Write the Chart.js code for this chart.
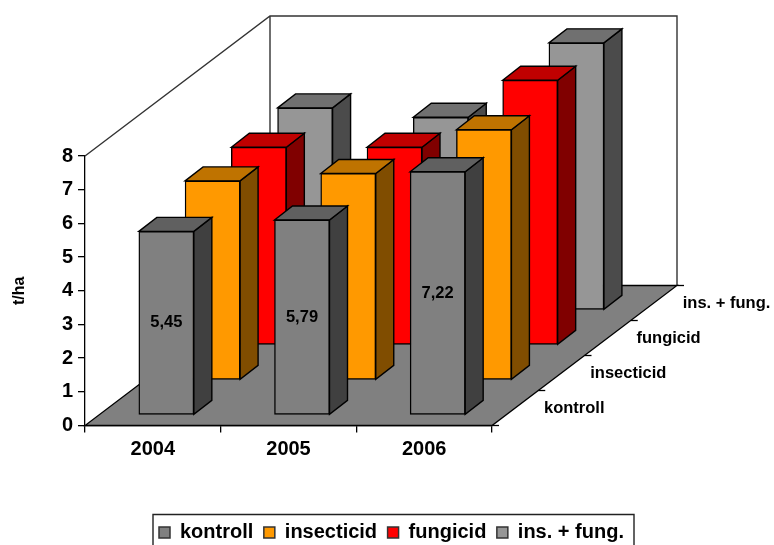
<!DOCTYPE html>
<html>
<head>
<meta charset="utf-8">
<style>html,body{margin:0;padding:0;background:#fff;overflow:hidden}canvas{display:block}</style>
<script src="https://cdn.jsdelivr.net/npm/chart.js@4/dist/chart.umd.min.js"></script>
</head>
<body>
<canvas id="c" width="774" height="545"></canvas>
<script>
const years = ['2004', '2005', '2006'];
const seriesNames = ['kontroll', 'insecticid', 'fungicid', 'ins. + fung.'];
const kontroll = [5.45, 5.79, 7.22];
const insecticid = [5.91, 6.13, 7.43];
const fungicid = [5.87, 5.87, 7.86];
const insFung = [6.0, 5.72, 7.93];
const yTicks = [0, 1, 2, 3, 4, 5, 6, 7, 8];
const valueLabels = ['5,45', '5,79', '7,22'];

const FONT = '"Liberation Sans", Arial, sans-serif';
const front = ['#808080', '#FF9900', '#FF0000', '#969696'];
const topFace = ['#606060', '#BF7300', '#C00000', '#707070'];
const sideFace = ['#404040', '#804D00', '#800000', '#4B4B4B'];
const DEPTH = { x: 185, y: 140 };
const SLOT = { x: DEPTH.x / 4, y: DEPTH.y / 4 };
const GAP = { x: 13.5, y: 10.5 };
const BAR_D = { x: 18, y: 14 };

function offset(i) {
  return { x: GAP.x + SLOT.x * i, y: GAP.y + SLOT.y * i };
}
function poly(ctx, pts, fill, stroke, lw) {
  ctx.beginPath();
  pts.forEach((p, i) => i ? ctx.lineTo(p[0], p[1]) : ctx.moveTo(p[0], p[1]));
  ctx.closePath();
  if (fill) { ctx.fillStyle = fill; ctx.fill(); }
  if (stroke) { ctx.strokeStyle = stroke; ctx.lineWidth = lw || 1; ctx.stroke(); }
}

const scene = {
  id: 'scene',
  afterLayout(chart) {
    const lg = chart.legend;
    lg.left = 148.5; lg.right = 648.5; lg.width = 500; lg.top = 512;
  },
  beforeDatasetsDraw(chart) {
    const ctx = chart.ctx, a = chart.chartArea;
    const L = a.left, R = a.right, B = a.bottom, T = a.top;
    ctx.save();
    // walls
    ctx.lineJoin = 'miter';
    ctx.beginPath();
    ctx.moveTo(L, T); ctx.lineTo(L + DEPTH.x, T - DEPTH.y);
    ctx.lineTo(R + DEPTH.x, T - DEPTH.y); ctx.lineTo(R + DEPTH.x, B - DEPTH.y);
    ctx.moveTo(L + DEPTH.x, T - DEPTH.y); ctx.lineTo(L + DEPTH.x, B - DEPTH.y);
    ctx.strokeStyle = '#333'; ctx.lineWidth = 1.4; ctx.stroke();
    // floor
    poly(ctx, [[L, B], [R, B], [R + DEPTH.x, B - DEPTH.y], [L + DEPTH.x, B - DEPTH.y]], '#808080', '#000', 1.3);
    // depth axis ticks and labels
    ctx.strokeStyle = '#000'; ctx.lineWidth = 1.3;
    for (let i = 0; i <= seriesNames.length; i++) {
      const x = R + SLOT.x * i, y = B - SLOT.y * i;
      ctx.beginPath(); ctx.moveTo(x, y); ctx.lineTo(x + 7, y); ctx.stroke();
    }
    ctx.fillStyle = '#000';
    ctx.font = 'bold 16.5px ' + FONT;
    ctx.textAlign = 'left'; ctx.textBaseline = 'middle';
    seriesNames.forEach((n, i) => {
      ctx.fillText(n, R + SLOT.x * i + 52, B - SLOT.y * i - 17);
    });
    // frame of the legend
    ctx.strokeStyle = '#222'; ctx.lineWidth = 1.4;
    ctx.beginPath();
    ctx.moveTo(153, 550); ctx.lineTo(153, 514.5); ctx.lineTo(634, 514.5); ctx.lineTo(634, 550);
    ctx.stroke();
    ctx.restore();
  },
  beforeDatasetDraw(chart, args) {
    const ctx = chart.ctx, i = args.index, o = offset(i);
    const meta = chart.getDatasetMeta(i);
    ctx.save();
    ctx.translate(o.x, -o.y);
    meta.data.forEach(bar => {
      const l = bar.x - bar.width / 2, r = bar.x + bar.width / 2, t = bar.y, b = bar.base;
      poly(ctx, [[r, t], [r + BAR_D.x, t - BAR_D.y], [r + BAR_D.x, b - BAR_D.y], [r, b]], sideFace[i], '#000', 1.4);
      poly(ctx, [[l, t], [l + BAR_D.x, t - BAR_D.y], [r + BAR_D.x, t - BAR_D.y], [r, t]], topFace[i], '#000', 1.4);
    });
  },
  afterDatasetDraw(chart, args) {
    const ctx = chart.ctx, i = args.index;
    const meta = chart.getDatasetMeta(i);
    if (i === 0) {
      ctx.fillStyle = '#000';
      ctx.font = 'bold 16.5px ' + FONT;
      ctx.textAlign = 'center'; ctx.textBaseline = 'middle';
      meta.data.forEach((bar, k) => {
        ctx.fillText(valueLabels[k], bar.x, (bar.y + bar.base) / 2);
      });
    }
    ctx.restore();
  }
};

const makeSet = (label, data, i) => ({
  label, data,
  backgroundColor: front[i],
  borderColor: '#000',
  borderWidth: 1.4,
  borderSkipped: false,
  barThickness: 55,
  grouped: false,
  clip: false
});

new Chart(document.getElementById('c'), {
  type: 'bar',
  data: {
    labels: years,
    datasets: [
      makeSet(seriesNames[0], kontroll, 0),
      makeSet(seriesNames[1], insecticid, 1),
      makeSet(seriesNames[2], fungicid, 2),
      makeSet(seriesNames[3], insFung, 3)
    ]
  },
  plugins: [scene],
  options: {
    responsive: false,
    animation: false,
    devicePixelRatio: 1,
    layout: { padding: { top: 156, left: 0, right: 0, bottom: 0 } },
    scales: {
      x: {
        offset: true,
        grid: { display: true, drawOnChartArea: false, offset: true, tickLength: 7, color: '#000', lineWidth: 1.3 },
        border: { display: true, color: '#000', width: 1.3 },
        ticks: { color: '#000', font: { family: FONT, size: 20, weight: 'bold' }, padding: 5, maxRotation: 0 },
        afterFit(s) { s.height = 79; }
      },
      y: {
        min: 0, max: 8,
        afterBuildTicks(s) { s.ticks = yTicks.map(v => ({ value: v })); },
        grid: { display: true, drawOnChartArea: false, tickLength: 7, color: '#000', lineWidth: 1.3 },
        border: { display: true, color: '#000', width: 1.3 },
        ticks: { color: '#000', font: { family: FONT, size: 20, weight: 'bold' }, padding: 5 },
        title: { display: true, text: 't/ha', color: '#000', font: { family: FONT, size: 16, weight: 'bold' }, padding: { top: 10, bottom: 0 } },
        afterFit(s) { s.width = 85; }
      },
      spacer: {
        type: 'linear', position: 'right', display: true,
        grid: { display: false }, border: { display: false }, ticks: { display: false },
        afterFit(s) { s.width = 282; }
      }
    },
    plugins: {
      title: { display: false },
      tooltip: { enabled: false },
      legend: {
        display: true, position: 'bottom', align: 'start',
        labels: {
          color: '#000', boxWidth: 11, boxHeight: 11, padding: 10.5,
          font: { family: FONT, size: 20, weight: 'bold' },
          generateLabels(chart) {
            return chart.data.datasets.map((d, i) => ({
              text: d.label, fillStyle: front[i], strokeStyle: '#333', lineWidth: 1.5, datasetIndex: i, hidden: false
            }));
          }
        }
      }
    }
  }
});
</script>
</body>
</html>
